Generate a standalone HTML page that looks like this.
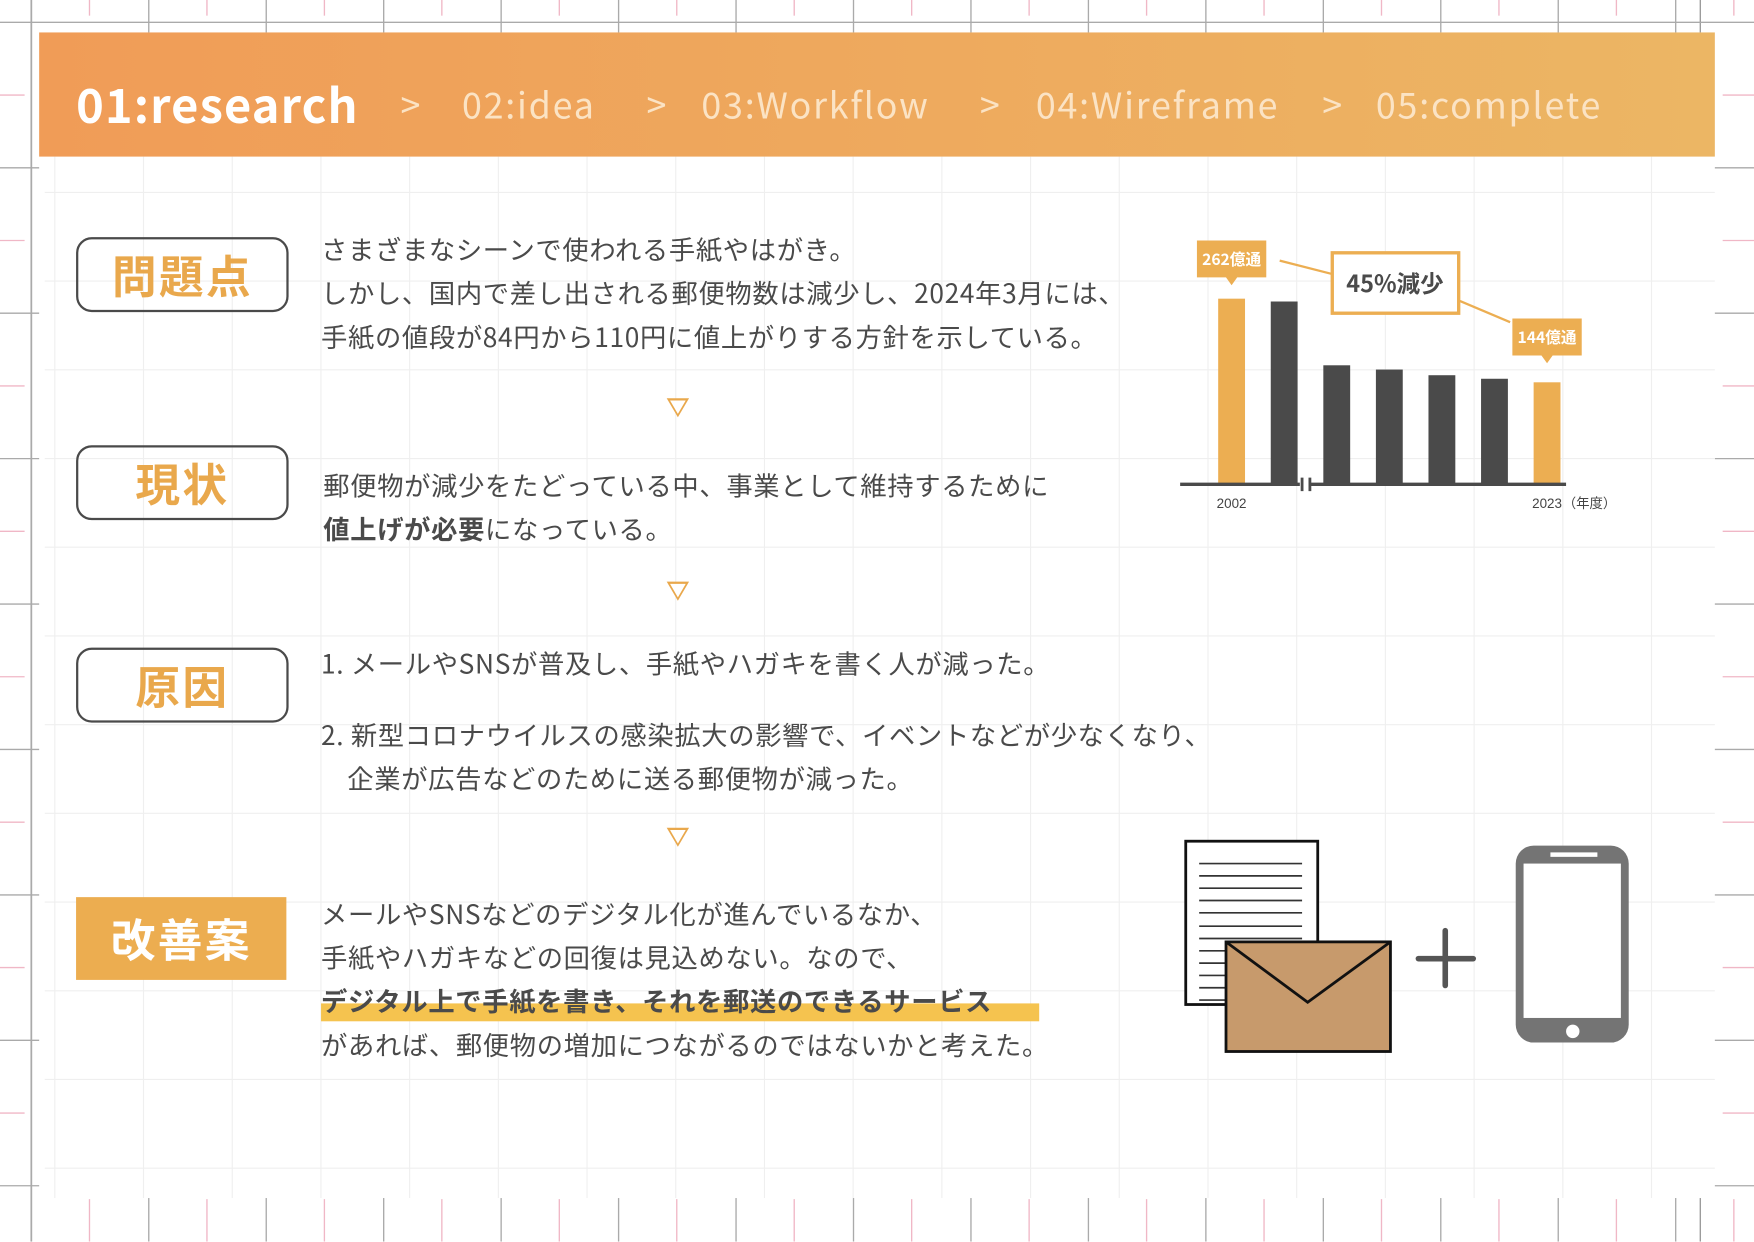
<!DOCTYPE html>
<html><head><meta charset="utf-8">
<style>
html,body{margin:0;padding:0;background:#fff;}
body{width:1754px;height:1241px;overflow:hidden;position:relative;font-family:"Liberation Sans","Noto Sans CJK JP",sans-serif;}
#stage{position:absolute;left:0;top:0;width:1568px;height:1110px;transform:scale(1.11862);transform-origin:0 0;}
.abs{position:absolute;}
.txt{position:absolute;font-family:"Noto Sans CJK JP","Liberation Sans",sans-serif;color:#4a4a4a;font-size:23.5px;letter-spacing:0.6px;white-space:nowrap;line-height:39px;}
.label{position:absolute;left:68px;width:186px;height:63px;border:2px solid #4a4a4a;border-radius:14px;color:#e9a84c;font-family:"Noto Sans CJK JP",sans-serif;font-weight:bold;font-size:40px;text-align:center;line-height:63px;letter-spacing:2px;}
.arrow{position:absolute;left:596px;width:0;height:0;border-left:10px solid transparent;border-right:10px solid transparent;border-top:17px solid #e9a84c;}
.arrow::after{content:"";position:absolute;left:-7px;top:-15px;border-left:7px solid transparent;border-right:7px solid transparent;border-top:12px solid #fff;}
.nav{position:absolute;top:70px;color:#fbe3c4;font-family:"Noto Sans CJK JP","Liberation Sans",sans-serif;font-size:32px;letter-spacing:1.6px;white-space:nowrap;}
</style></head>
<body>
<div id="stage">
<svg class="abs" style="left:0;top:0" width="1568" height="1110">
 <g id="outer"></g>
 <rect x="35" y="29" width="1498" height="1042" fill="#fff"/>
 <g id="inner"></g>
</svg>

<div class="abs" style="left:35px;top:29px;width:1498px;height:111px;background:linear-gradient(90deg,#f09c57,#ecb664);"></div>
<div class="nav" style="left:68px;top:62px;color:#fff;font-weight:bold;font-size:42px;letter-spacing:1px;">01:research</div>
<div class="nav" style="left:358px;">&gt;</div>
<div class="nav" style="left:413px;">02:idea</div>
<div class="nav" style="left:578px;">&gt;</div>
<div class="nav" style="left:627px;">03:Workflow</div>
<div class="nav" style="left:876px;">&gt;</div>
<div class="nav" style="left:926px;">04:Wireframe</div>
<div class="nav" style="left:1182px;">&gt;</div>
<div class="nav" style="left:1230px;">05:complete</div>

<div class="label" style="top:212px;">問題点</div>
<div class="txt" style="left:287px;top:203px;">さまざまなシーンで使われる手紙やはがき。<br>しかし、国内で差し出される郵便物数は減少し、2024年3月には、<br>手紙の値段が84円から110円に値上がりする方針を示している。</div>
<div class="arrow" style="top:356px;"></div>

<div class="label" style="top:398px;">現状</div>
<div class="txt" style="left:289px;top:414px;">郵便物が減少をたどっている中、事業として維持するために<br><b>値上げが必要</b>になっている。</div>
<div class="arrow" style="top:520px;"></div>

<div class="label" style="top:579px;">原因</div>
<div class="txt" style="left:287px;top:573px;">1. メールやSNSが普及し、手紙やハガキを書く人が減った。</div>
<div class="txt" style="left:287px;top:637px;">2. 新型コロナウイルスの感染拡大の影響で、イベントなどが少なくなり、<br>&nbsp;&nbsp;&nbsp;&nbsp;企業が広告などのために送る郵便物が減った。</div>
<div class="arrow" style="top:740px;"></div>

<div class="abs" style="left:68px;top:802px;width:188px;height:74px;background:#ecad50;color:#fff;font-family:'Noto Sans CJK JP',sans-serif;font-weight:bold;font-size:40px;text-align:center;line-height:72px;letter-spacing:2px;">改善案</div>
<div class="abs" style="left:287px;top:897px;width:642px;height:16px;background:#f5c34f;"></div>
<div class="txt" style="left:287px;top:797px;">メールやSNSなどのデジタル化が進んでいるなか、<br>手紙やハガキなどの回復は見込めない。なので、<br><b>デジタル上で手紙を書き、それを郵送のできるサービス</b><br>があれば、郵便物の増加につながるのではないかと考えた。</div>

<svg class="abs" id="chart" style="left:1040px;top:200px" width="420" height="270"></svg>

<svg class="abs" style="left:1055px;top:748px" width="410" height="200">
 <g>
  <rect x="5" y="4" width="118" height="146" fill="#fff" stroke="#111" stroke-width="2.5"/>
  <g stroke="#333" stroke-width="1.5">
   <line x1="17" y1="24" x2="109" y2="24"/><line x1="17" y1="35" x2="109" y2="35"/><line x1="17" y1="46" x2="109" y2="46"/><line x1="17" y1="57" x2="109" y2="57"/><line x1="17" y1="68" x2="109" y2="68"/><line x1="17" y1="80" x2="109" y2="80"/><line x1="17" y1="91" x2="109" y2="91"/><line x1="17" y1="102" x2="109" y2="102"/><line x1="17" y1="113" x2="109" y2="113"/><line x1="17" y1="124" x2="109" y2="124"/><line x1="17" y1="135" x2="109" y2="135"/><line x1="17" y1="146" x2="109" y2="146"/>
  </g>
 </g>
 <g>
  <rect x="41" y="94" width="147" height="98" fill="#c79a6c" stroke="#111" stroke-width="2.5"/>
  <polyline points="41,94 114,148 188,94" fill="none" stroke="#111" stroke-width="2.5"/>
 </g>
 <g stroke="#555" stroke-width="5" stroke-linecap="round">
  <line x1="213" y1="109" x2="262" y2="109"/><line x1="237" y1="84" x2="237" y2="133"/>
 </g>
 <g>
  <rect x="300" y="8" width="101" height="176" rx="16" fill="#747474"/>
  <rect x="307" y="24" width="87" height="138" fill="#fff"/>
  <rect x="331" y="14" width="42" height="4" fill="#fff"/>
  <ellipse cx="351" cy="174" rx="6" ry="6" fill="#fff"/>
 </g>
</svg>
</div>

<script>
(function(){
 const ns="http://www.w3.org/2000/svg";
 const outer=document.getElementById('outer'), inner=document.getElementById('inner');
 function ln(g,x1,y1,x2,y2,c,w){const l=document.createElementNS(ns,'line');l.setAttribute('x1',x1);l.setAttribute('y1',y1);l.setAttribute('x2',x2);l.setAttribute('y2',y2);l.setAttribute('stroke',c);l.setAttribute('stroke-width',w);g.appendChild(l);}
 ln(outer,0,20,1568,20,'#bbb',1.2);
 ln(outer,28,0,28,1110,'#999',1.5);
 ln(outer,1520,0,1520,1110,'#999',1.2);
 for(let x=28;x<1568;x+=105){ln(outer,x,0,x,1110,'#aaa',1.2);}
 for(let x=80;x<1568;x+=105){ln(outer,x,0,x,14,'#f0b7c6',1.2);ln(outer,x,1072,x,1110,'#f0b7c6',1.2);}
 for(let y=20;y<1110;y+=130){ln(outer,0,y,1568,y,'#aaa',1.2);}
 for(let y=85;y<1110;y+=130){ln(outer,0,y,22,y,'#f0b7c6',1.2);ln(outer,1540,y,1568,y,'#f0b7c6',1.2);}
 for(let x=49;x<1533;x+=79.3){ln(inner,x,140,x,1071,'#efefef',1);}
 for(let y=172;y<1071;y+=79.3){ln(inner,40,y,1533,y,'#efefef',1);}
})();
</script>
<script>
const years=["2002","","","","","","2023"];
const values=[262,258,168,162,154,149,144];
const barColors=["#ecae52","#4a4a4a","#4a4a4a","#4a4a4a","#4a4a4a","#4a4a4a","#ecae52"];
const calloutLabels=["262億通","144億通"];
const reductionLabel="45%減少";
(function(){
 const ns="http://www.w3.org/2000/svg";
 const svg=document.getElementById('chart');
 const baseY=233, pxPerUnit=166/262, x0=61, step=47, bw=24;
 const xs=i=>x0+i*step, ys=v=>baseY-v*pxPerUnit;
 function el(t,a){const e=document.createElementNS(ns,t);for(const k in a)e.setAttribute(k,a[k]);svg.appendChild(e);return e;}
 values.forEach((v,i)=>{
  const r=el('rect',{x:xs(i)-bw/2,y:ys(v),width:bw,height:v*pxPerUnit,fill:barColors[i]});
  
  
 });
 const ax=el('path',{d:`M15 ${baseY} H122 M131 ${baseY} H360`,stroke:'#4a4a4a','stroke-width':3,fill:'none'});
 
 
 el('path',{d:`M124 ${baseY-6} V${baseY+6} M131 ${baseY-6} V${baseY+6}`,stroke:'#4a4a4a','stroke-width':2.5});
 years.forEach((y,i)=>{ if(!y)return;
  const t=el('text',{x:xs(i),y:baseY+21,'font-size':12,fill:'#444','text-anchor':'middle','font-family':'Liberation Sans, Noto Sans CJK JP, sans-serif'});
  t.textContent=y;
  
  
 });
 const unit=el('text',{x:xs(6)+14,y:baseY+21,'font-size':12,fill:'#444','font-family':'Noto Sans CJK JP, sans-serif'});
 unit.textContent='（年度）';
 
 
 [[0,calloutLabels[0]],[6,calloutLabels[1]]].forEach(([i,lab],k)=>{
  const cx=xs(i), by=ys(values[i])-(k?17:12);
  const g=el('path',{d:`M${cx-31} ${by-40} h62 v33 h-26 l-5 7 l-5 -7 h-26 z`,fill:'#ecae52'});
  
  
  const t=el('text',{x:cx,y:by-18,'font-size':14,fill:'#fff','font-weight':'bold','text-anchor':'middle','font-family':'Noto Sans CJK JP, sans-serif'});
  t.textContent=lab;
  
  
 });
 el('line',{x1:104,y1:33,x2:151,y2:45,stroke:'#ecae52','stroke-width':2});
 el('line',{x1:265,y1:69,x2:310,y2:88,stroke:'#ecae52','stroke-width':2});
 const rb=el('rect',{x:151,y:26,width:113,height:54,fill:'#fff',stroke:'#ecae52','stroke-width':3});
 
 
 const rt=el('text',{x:207,y:61,'font-size':21,fill:'#4a4a4a','font-weight':'bold','text-anchor':'middle','font-family':'Noto Sans CJK JP, sans-serif'});
 rt.textContent=reductionLabel;
 
 
})();
</script>
</body></html>
